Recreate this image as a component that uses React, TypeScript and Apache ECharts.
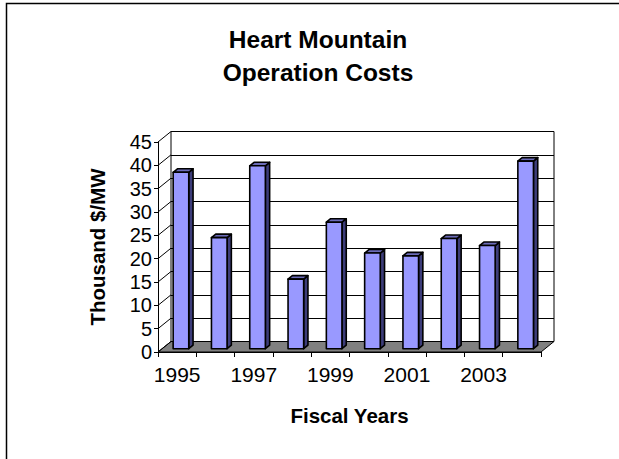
import React, { useEffect, useRef } from "react";
import * as echarts from "echarts";

const categories = ["1995", "1996", "1997", "1998", "1999", "2000", "2001", "2002", "2003", "2004"];
const costs = [37.8, 23.8, 39.2, 14.9, 27.1, 20.5, 19.9, 23.6, 22.1, 40.2];
const Y_MIN = 0;
const Y_MAX = 45;
const Y_INTERVAL = 5;
const TITLE = "Heart Mountain\nOperation Costs";
const Y_NAME = "Thousand $/MW";
const X_NAME = "Fiscal Years";

const FONT = "'Liberation Sans', Arial, Helvetica, sans-serif";
// 3D look (pixels)
const WALL_DX = 13;
const WALL_DY = -10.5;
const BAR_SHIFT_X = 3.8;
const BAR_SHIFT_Y = -3.3;
const BAR_HALF = 7.8;
const BAR_DX = 4.3;
const BAR_DY = -3.5;

const GRID = { left: 158, top: 142, width: 383, height: 210 };

export default function App() {
  const ref = useRef<HTMLDivElement>(null);
  useEffect(() => {
    if (!ref.current) return;
    const chart = echarts.init(ref.current, null, { renderer: "svg" });
    const ticks: number[] = [];
    for (let v = Y_MIN; v <= Y_MAX; v += Y_INTERVAL) ticks.push(v);

    const option: any = {
      animation: false,
      backgroundColor: "#ffffff",
      title: {
        text: TITLE,
        left: 313,
        top: 18,
        textAlign: "center",
        textStyle: { fontFamily: FONT, fontSize: 24.5, fontWeight: "bold", color: "#000", lineHeight: 33 },
      },
      graphic: [
        {
          type: "rect",
          shape: { x: 6.5, y: 3.5, width: 700, height: 600 },
          style: { fill: "none", stroke: "#000", lineWidth: 1.5 },
          silent: true,
        },
      ],
      grid: [
        { left: GRID.left, top: GRID.top, width: GRID.width, height: GRID.height, show: false },
        {
          left: GRID.left + WALL_DX,
          top: GRID.top + WALL_DY,
          width: GRID.width,
          height: GRID.height,
          show: true,
          backgroundColor: "#ffffff",
          borderColor: "#000",
          borderWidth: 1,
        },
      ],
      xAxis: [
        {
          type: "category",
          gridIndex: 0,
          data: categories,
          boundaryGap: true,
          axisLine: { show: true, lineStyle: { color: "#000", width: 1 } },
          axisTick: { show: true, interval: 0, length: 5, lineStyle: { color: "#000" } },
          axisLabel: { interval: 1, fontFamily: FONT, fontSize: 21, color: "#000", margin: 12 },
          name: X_NAME,
          nameLocation: "middle",
          nameGap: 53,
          nameTextStyle: { fontFamily: FONT, fontSize: 20.5, fontWeight: "bold", color: "#000" },
        },
        { type: "category", gridIndex: 1, data: categories, show: false },
      ],
      yAxis: [
        {
          type: "value",
          gridIndex: 0,
          min: Y_MIN,
          max: Y_MAX,
          interval: Y_INTERVAL,
          axisLine: { show: true, lineStyle: { color: "#000", width: 1 } },
          axisTick: { show: true, length: 4, lineStyle: { color: "#000" } },
          axisLabel: { fontFamily: FONT, fontSize: 20, color: "#000", margin: 6 },
          splitLine: { show: false },
          name: Y_NAME,
          nameLocation: "middle",
          nameGap: 50,
          nameRotate: 90,
          nameTextStyle: { fontFamily: FONT, fontSize: 20.5, fontWeight: "bold", color: "#000" },
        },
        {
          type: "value",
          gridIndex: 1,
          min: Y_MIN,
          max: Y_MAX,
          interval: Y_INTERVAL,
          axisLine: { show: false },
          axisTick: { show: false },
          axisLabel: { show: false },
          splitLine: { show: true, lineStyle: { color: "#000", width: 1 } },
        },
      ],
      series: [
        {
          type: "custom",
          name: "frame",
          xAxisIndex: 0,
          yAxisIndex: 0,
          z: 1,
          silent: true,
          data: [[0, 0]],
          renderItem: (params: any, api: any) => {
            const cs = params.coordSys;
            const xl = cs.x;
            const xr = cs.x + cs.width;
            const y0 = api.coord([0, Y_MIN])[1];
            const children: any[] = [];
            children.push({
              type: "polygon",
              shape: {
                points: [
                  [xl, y0],
                  [xr, y0],
                  [xr + WALL_DX, y0 + WALL_DY],
                  [xl + WALL_DX, y0 + WALL_DY],
                ],
              },
              style: { fill: "#808080", stroke: "#000", lineWidth: 1 },
            });
            ticks.forEach((v) => {
              const y = api.coord([0, v])[1];
              children.push({
                type: "line",
                shape: { x1: xl, y1: y, x2: xl + WALL_DX, y2: y + WALL_DY },
                style: { stroke: "#000", lineWidth: 1 },
              });
            });
            return { type: "group", children };
          },
        },
        {
          type: "custom",
          name: "Operation Costs",
          xAxisIndex: 0,
          yAxisIndex: 0,
          z: 3,
          data: categories.map((c, i) => [i, costs[i]]),
          renderItem: (params: any, api: any) => {
            const idx = api.value(0);
            const v = api.value(1);
            const base = api.coord([idx, Y_MIN]);
            const top = api.coord([idx, v]);
            const cx = base[0] + BAR_SHIFT_X;
            const x0 = cx - BAR_HALF;
            const x1 = cx + BAR_HALF;
            const yb = base[1] + BAR_SHIFT_Y;
            const yt = top[1] + BAR_SHIFT_Y;
            const stroke = { stroke: "#000", lineWidth: 1.6, lineJoin: "round" };
            return {
              type: "group",
              children: [
                {
                  type: "polygon",
                  shape: { points: [[x1, yb], [x1, yt], [x1 + BAR_DX, yt + BAR_DY], [x1 + BAR_DX, yb + BAR_DY]] },
                  style: { fill: "#3d3d7a", ...stroke },
                },
                {
                  type: "polygon",
                  shape: { points: [[x0, yt], [x1, yt], [x1 + BAR_DX, yt + BAR_DY], [x0 + BAR_DX, yt + BAR_DY]] },
                  style: { fill: "#6b6bb8", ...stroke },
                },
                {
                  type: "rect",
                  shape: { x: x0, y: yt, width: x1 - x0, height: yb - yt },
                  style: { fill: "#9999ff", ...stroke },
                },
              ],
            };
          },
        },
      ],
    };
    chart.setOption(option);
    return () => chart.dispose();
  }, []);
  return (
    <div
      ref={ref}
      style={{ position: "absolute", left: 0, top: 0, width: 619, height: 459, background: "#fff" }}
    />
  );
}
